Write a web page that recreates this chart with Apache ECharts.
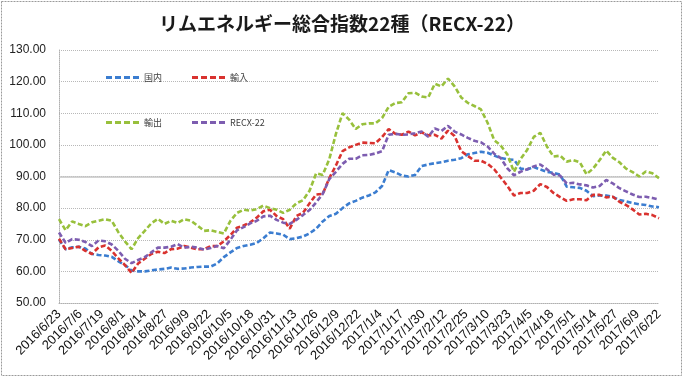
<!DOCTYPE html>
<html>
<head>
<meta charset="utf-8">
<script src="https://cdn.jsdelivr.net/npm/echarts@6/dist/echarts.min.js"></script>
<style>
html,body{margin:0;padding:0;background:#fff;}
#chart{width:684px;height:378px;}
</style>
</head>
<body>
<div id="chart"></div>
<script>
// ---- data ----
const titleText = 'リムエネルギー総合指数22種（RECX-22）';
const startDate = '2016/6/23';
const endDate = '2017/6/22';
const sampleStepDays = 4; // values below read every 4 days from startDate
const tickLabels = ['2016/6/23','2016/7/6','2016/7/19','2016/8/1','2016/8/14','2016/8/27','2016/9/9','2016/9/22','2016/10/5','2016/10/18','2016/10/31','2016/11/13','2016/11/26','2016/12/9','2016/12/22','2017/1/4','2017/1/17','2017/1/30','2017/2/12','2017/2/25','2017/3/10','2017/3/23','2017/4/5','2017/4/18','2017/5/1','2017/5/14','2017/5/27','2017/6/9','2017/6/22'];
const seriesNames = ['国内', '輸入', '輸出', 'RECX-22'];

const domestic = [70,67,67.6,67.8,67.2,65.5,65.2,65,64.6,63.2,62,60.3,60,60,60.3,60.6,60.8,61.2,60.8,60.9,61.2,61.4,61.5,61.5,62.5,64.5,66,67.4,68,68.4,69,70.5,72.3,72,71.6,70.2,70.5,71,72,73.5,75.8,77.5,78.2,80,81.5,82.3,83.3,84,85,87,92,91.3,90.3,90,90.5,93.3,93.8,94.2,94.5,95,95.3,95.8,97,97.4,97.8,97.5,96.6,95.9,95.4,95.3,92.5,92.2,93,92.2,91.5,91.1,90.6,86.8,86.6,86.4,85.5,83.8,84,84,83.5,82.6,82.1,81.6,81.2,81,80.5,80.3];
const imports = [70.3,67,67.4,67.8,66.5,65.5,67.6,68.2,66.5,64.1,62,59.5,62.5,64,65.5,66.2,65.8,67,67.2,68,67.5,67,67,68,68,69.5,71.5,73.8,74.5,75.5,77,79,79.5,77.5,76.5,73.5,77.5,78.5,81.5,84.3,84.5,89.5,93.5,98,99.2,100,100.7,100.6,100.5,102.5,105,103.5,103.2,104.2,103,104,103,103.2,102,104.5,102.8,98,96.5,95,95,94,92.3,89.7,87,84,84.8,84.8,85.5,87.6,86.7,84.8,83.5,82.3,82.8,82.8,82.5,84.2,84.2,83.4,83.6,82,81,79.6,78,78.2,77.8,76.8];
const exportsIdx = [76.5,73,75.8,75,74.3,75.5,76,76.5,76,72.4,69.5,67,70.5,72.8,75.2,76.6,75,76,75.3,76.5,76,74.5,72.8,73,72.5,72,76,78.5,79.5,79.2,79.7,80.8,80,79.5,78.5,79.5,81.5,82.5,85.5,91,90.5,95.5,103.5,110,108,105,106.5,106.8,106.8,108.5,112,113.2,113.5,116.3,116.5,115.3,115,119.3,118.5,121,118.5,115,113.3,112.3,111.2,107,101.5,99.8,97,91.5,95.5,98.4,102.5,103.8,99.5,96.3,96.6,94.7,95.2,94.5,90.7,92.5,95.2,98.2,95.9,94.5,92.5,91.4,90,91.6,91,89.5];
const recx = [72.3,69,70.2,70,69.3,68,69.8,69.5,68.5,66.5,64,62.6,63.6,64.5,66,67.5,67.5,67.8,68.6,67.5,67.8,67.5,66.9,67.4,68,67.3,70,73,74,75.2,76,77.4,77.6,76.3,75.4,75,76.3,77.8,79.4,81.8,84.5,89.2,91.5,94,95.6,95.6,96.7,96.8,97.3,98,103.2,103.5,103.2,103.3,103.7,104.2,102.6,105.2,104.4,106,104.2,103.3,102.2,101.3,100.8,99.5,97.2,95.8,92.6,90.4,91.5,92.3,93.2,93.8,92.3,90.6,90.3,87.8,88,87.5,87.2,86.5,87,88.9,87.8,86.3,85.3,84.3,83.5,83.6,83.2,82.7];

// ---- build categories (every calendar day) ----
function parseD(s){const p=s.split('/').map(Number);return Date.UTC(p[0],p[1]-1,p[2]);}
function fmtD(t){const d=new Date(t);return d.getUTCFullYear()+'/'+(d.getUTCMonth()+1)+'/'+d.getUTCDate();}
const days = [];
for (let t = parseD(startDate); t <= parseD(endDate); t += 86400000) days.push(fmtD(t));
const sampleDates = days.filter((d, i) => i % sampleStepDays === 0);
function pairs(vals){ return vals.map((v, i) => [days.indexOf(sampleDates[i]), v]); }

const colors = ['#3b7dd0', '#d9322f', '#98c03c', '#7d5db0'];
const allVals = [domestic, imports, exportsIdx, recx];
const dashIcon = 'path://M0,0h6v3h-6zM9,0h6v3h-6zM18,0h6v3h-6zM27,0h6v3h-6z';

const chart = echarts.init(document.getElementById('chart'), null, {renderer: 'canvas'});
const series = seriesNames.map((n, k) => ({
  name: n,
  type: 'line',
  data: pairs(allVals[k]),
  symbol: 'none',
  smooth: false,
  z: 3 + k,
  lineStyle: {color: colors[k], width: 2.6, type: [5, 2.5]},
  itemStyle: {color: colors[k]}
}));
series[0].markLine = {
  silent: true, symbol: 'none', label: {show: false}, z: 1,
  lineStyle: {color: '#c4c4c4', type: 'solid', width: 1.5},
  data: [{yAxis: 90}]
};

const legendCommon = {
  left: 101, itemWidth: 33, itemHeight: 3, itemGap: 30, icon: dashIcon,
  textStyle: {fontSize: 9, color: '#404040', fontFamily: 'Noto Sans CJK JP', padding: [0, 0, 0, 0]}
};

chart.setOption({
  animation: false,
  backgroundColor: '#ffffff',
  title: {
    text: titleText, left: 'center', top: 9,
    textStyle: {fontFamily: 'Noto Sans CJK JP', fontWeight: 'bold', fontSize: 19, color: '#1a1a1a'}
  },
  graphic: [{
    type: 'rect', silent: true, z: -1,
    shape: {x: 1.5, y: 1.5, width: 680, height: 374},
    style: {fill: 'none', stroke: '#9a9a9a', lineWidth: 1, lineDash: [2, 1]}
  }],
  legend: [
    Object.assign({data: seriesNames.slice(0, 2), top: 68}, legendCommon),
    Object.assign({data: seriesNames.slice(2, 4), top: 113}, legendCommon)
  ],
  grid: {left: 59, right: 25, top: 50, bottom: 75, containLabel: false},
  xAxis: {
    type: 'category', data: days, boundaryGap: false,
    axisLine: {show: true, lineStyle: {color: '#b0b0b0', type: 'dotted'}},
    axisTick: {show: false},
    splitLine: {show: false},
    axisLabel: {
      interval: (i, v) => tickLabels.includes(v),
      rotate: 45, fontSize: 13, color: '#111', margin: 9,
      fontFamily: 'Liberation Sans'
    }
  },
  yAxis: {
    type: 'value', min: 50, max: 130, interval: 10,
    axisLine: {show: true, lineStyle: {color: '#b0b0b0', type: 'dotted'}},
    axisTick: {show: false},
    splitLine: {show: true, lineStyle: {color: '#b8b8b8', type: 'dotted', width: 1}},
    axisLabel: {formatter: v => v.toFixed(2), fontSize: 12, color: '#222', margin: 13, fontFamily: 'Liberation Sans'}
  },
  series: series
});
</script>
</body>
</html>
